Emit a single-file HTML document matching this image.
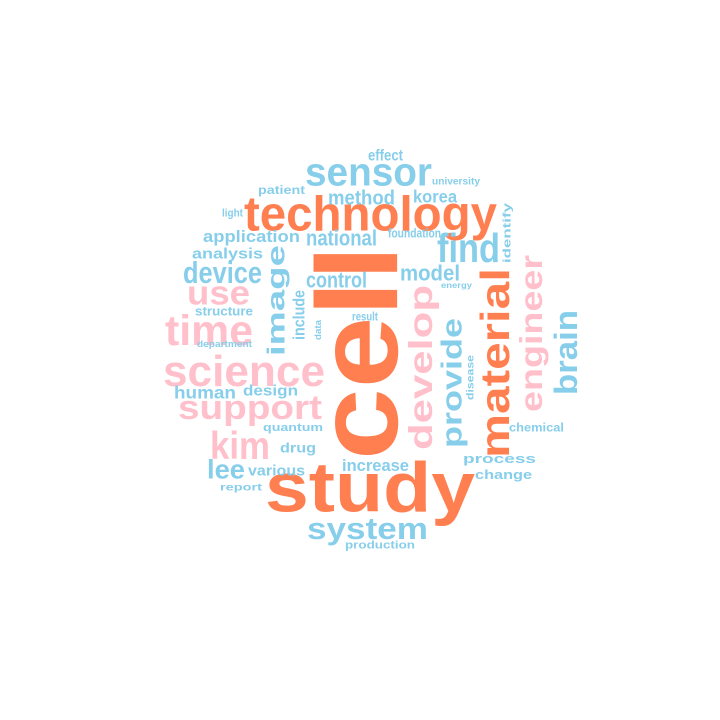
<!DOCTYPE html>
<html><head><meta charset="utf-8"><style>
html,body{margin:0;padding:0;background:#fff}
svg{display:block}
text{font-family:"Liberation Sans",sans-serif;font-weight:bold}
</style></head><body>
<svg id="cloud" width="720" height="720" viewBox="0 0 720 720">
<rect width="720" height="720" fill="#fff"/>
</svg>
<script>
const C={o:"#FF7F50",p:"#FFC0CB",b:"#87CEEB"};
const words=["cell","study","technology","material","sensor","science","support","time","use","kim","develop","engineer","image","provide","brain","find","system","lee","device","analysis","application","national","method","patient","light","effect","university","korea","foundation","identify","model","energy","control","structure","include","data","department","result","disease","human","design","quantum","drug","various","report","increase","chemical","process","change","production"];
const colors=["o","o","o","o","b","p","p","p","p","p","p","p","b","b","b","b","b","b","b","b","b","b","b","b","b","b","b","b","b","b","b","b","b","b","b","b","b","b","b","b","b","b","b","b","b","b","b","b","b","b"];
const vertical=[1,0,0,1,0,0,0,0,0,0,1,1,1,1,1,0,0,0,0,0,0,0,0,0,0,0,0,0,0,1,0,0,0,0,1,1,0,0,1,0,0,0,0,0,0,0,0,0,0,0];
// ink boxes [x0,y0,x1,y1]
const boxes=[[310,245,400,460],[265,458,475,528],[244,193,497,242],[478,268,510,458],[305,158,432,192],[163,353,325,388],[178,393,322,428],[165,313,253,347],[187,281,250,310],[210,430,270,460],[407,285,440,450],[518,255,550,412],[266,245,291,356],[440,318,468,448],[553,310,578,395],[437,231,500,263],[307,516,428,547],[207,458,245,479],[183,260,262,284],[192,247,263,262],[203,230,300,246],[306,229,377,246],[328,189,395,205],[258,185,305,197],[222,208,243,219],[368,149,403,161],[432,177,480,187],[413,189,457,203],[388,228,441,238],[502,203,513,263],[400,264,460,281],[441,282,472,291],[306,271,367,288],[195,306,253,316],[292,290,305,340],[314,320,321,340],[197,340,252,349],[352,312,378,321],[466,355,474,400],[174,385,236,399],[243,384,298,399],[263,423,323,434],[280,442,316,456],[248,464,305,476],[220,483,262,493],[342,459,409,472],[509,423,564,432],[463,454,536,468],[475,469,532,482],[345,540,415,551]];
const svg=document.getElementById('cloud');
const NS="http://www.w3.org/2000/svg";
for(let i=0;i<words.length;i++){
  const w=words[i];
  const [x0,y0,x1,y1]=boxes[i];
  const v=vertical[i];
  const len=v?(y1-y0):(x1-x0);
  const thick=v?(x1-x0):(y1-y0);
  const hasAsc=/[bdfhkl]/.test(w), hasTi=/[it]/.test(w);
  const top=hasAsc?0.73:(hasTi?0.7:0.53);
  const topK=hasAsc?0.78:(hasTi?0.8:0.85);
  const bot=/[gjpqy]/.test(w)?0.21:0;
  const fs=thick/(topK+bot);
  const off=(top-bot)/2*fs;
  let tx,ty;
  if(v){tx=(x0+x1)/2+off;ty=(y0+y1)/2;}else{tx=(x0+x1)/2;ty=(y0+y1)/2+off;}
  const t=document.createElementNS(NS,'text');
  
  
  t.textContent=w;
  t.setAttribute('x',0);
  t.setAttribute('y',0);
  t.setAttribute('text-anchor','middle');
  t.setAttribute('font-size',fs.toFixed(1));
  t.setAttribute('fill',C[colors[i]]);
  t.setAttribute('textLength',len);
  t.setAttribute('lengthAdjust','spacingAndGlyphs');
  t.setAttribute('transform','translate('+tx+','+ty+')'+(v?' rotate(-90)':''));
  svg.appendChild(t);
}
</script>
</body></html>
